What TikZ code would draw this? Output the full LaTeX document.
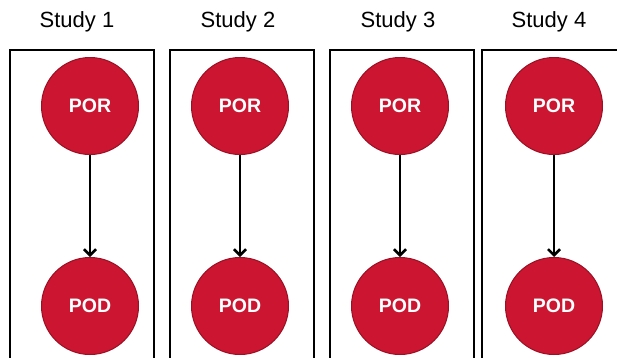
\documentclass[tikz,border=0pt]{standalone}
\usepackage{fontspec}
\setmainfont{Liberation Sans}
\usetikzlibrary{arrows.meta}
\definecolor{nodered}{HTML}{CC1530}
\definecolor{nodeedge}{HTML}{9A1024}
\tikzset{
  studybox/.style={draw=black, line width=2.5bp},
  var/.style={circle, fill=nodered, draw=nodeedge, line width=1bp,
    minimum size=97bp, inner sep=0pt, text=white,
    font=\fontsize{19.5bp}{22bp}\selectfont\bfseries},
  studylabel/.style={font=\fontsize{22bp}{25bp}\selectfont},
  link/.style={draw=black, line width=2.5bp, -{Straight Barb[length=6bp,width=12bp]}}
}
\begin{document}
\begin{tikzpicture}[x=1bp, y=-1bp]
\useasboundingbox (0,0) rectangle (617,357);
\clip (0,0) rectangle (617,357);
\fill[white] (0,0) rectangle (617,357);
% study frames, open at the bottom edge
\draw[studybox] (10,365) -- (10,50) -- (154,50) -- (154,365);
\draw[studybox] (170,365) -- (170,50) -- (314,50) -- (314,365);
\draw[studybox] (330,365) -- (330,50) -- (474,50) -- (474,365);
\draw[studybox] (482,365) -- (482,50) -- (630,50) -- (630,365);
% labels
\node[studylabel] (s1) at (77,22) {Study 1};
\node[studylabel] (s2) at (238,22) {Study 2};
\node[studylabel] (s3) at (398,22) {Study 3};
\node[studylabel] (s4) at (549,22) {Study 4};
% variables
\node[var] (r1) at (90,106) {POR};
\node[var] (d1) at (90,306) {POD};
\node[var] (r2) at (240,106) {POR};
\node[var] (d2) at (240,306) {POD};
\node[var] (r3) at (400,106) {POR};
\node[var] (d3) at (400,306) {POD};
\node[var] (r4) at (554,106) {POR};
\node[var] (d4) at (554,306) {POD};
% links
\draw[link] (r1) -- (d1);
\draw[link] (r2) -- (d2);
\draw[link] (r3) -- (d3);
\draw[link] (r4) -- (d4);
\end{tikzpicture}
\end{document}
